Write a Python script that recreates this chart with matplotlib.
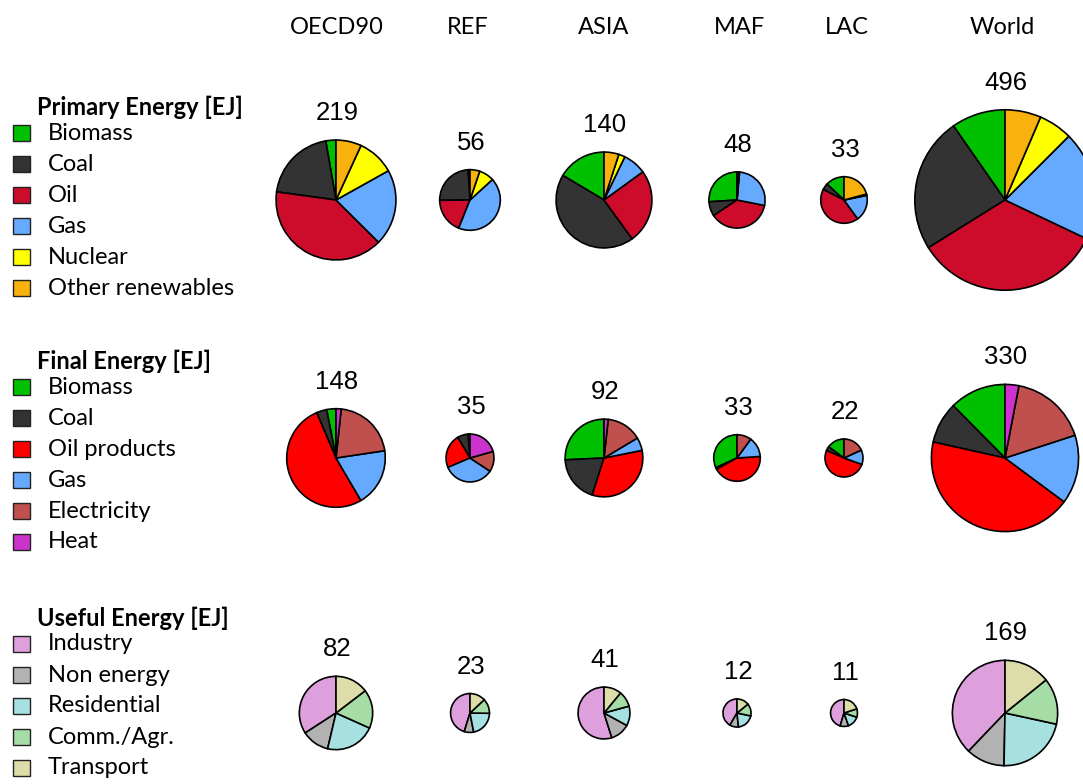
import matplotlib
matplotlib.use('Agg')
import matplotlib.pyplot as plt
from matplotlib.patches import Rectangle
import numpy as np

W, H = 1083, 784

regions = ['OECD90', 'REF', 'ASIA', 'MAF', 'LAC', 'World']

primary_labels = ['Biomass', 'Coal', 'Oil', 'Gas', 'Nuclear', 'Other renewables']
primary_colors = ['#00C000', '#333333', '#CC0C2A', '#66AAFF', '#FFFF00', '#F8B10D']
primary_values = [
    [6, 44, 87, 45, 22, 15],
    [0.6, 13.5, 10.5, 24, 4.5, 2.9],
    [23, 61, 35, 11, 3, 7],
    [12.5, 4, 18, 12.8, 0.2, 0.5],
    [4.3, 1.5, 14, 6, 0.3, 6.9],
    [48, 120, 169, 97, 30, 32],
]

final_labels = ['Biomass', 'Coal', 'Oil products', 'Gas', 'Electricity', 'Heat']
final_colors = ['#00C000', '#333333', '#FF0000', '#66AAFF', '#C0504D', '#CC33CC']
final_values = [
    [4.5, 5, 77, 28, 31, 2.5],
    [0.5, 2.5, 8, 12, 4.8, 7.2],
    [23.7, 17.8, 30.4, 5, 13.5, 1.6],
    [10.5, 0.4, 14.2, 4.6, 3.3, 0],
    [3.3, 0.8, 11.2, 2.7, 4.0, 0],
    [41, 30, 143, 50, 56, 10],
]

useful_labels = ['Industry', 'Non energy', 'Residential', 'Comm./Agr.', 'Transport']
useful_colors = ['#DDA0DD', '#B2B2B2', '#A6E0E0', '#A6DCA6', '#DDDDAA']
useful_values = [
    [28, 10, 18, 14, 12],
    [10.4, 1.8, 5, 2.8, 3],
    [22.5, 5, 5, 4, 4.5],
    [5, 1.2, 2.4, 1.7, 1.7],
    [5, 1.1, 1.6, 1.1, 2.2],
    [64, 20, 37, 24, 24],
]

col_x = [336, 470, 604, 737, 844, 1005]
header_x = [337, 468, 604, 740, 847, 1002]
row_y = [200, 458, 713]
k = 4.05  # radius scale (px per sqrt(EJ))

label_font = ['Lato', 'DejaVu Sans']
num_font = ['Liberation Sans', 'DejaVu Sans']

fig = plt.figure(figsize=(W / 100, H / 100), dpi=100)
ax = fig.add_axes([0, 0, 1, 1])

rows = [
    ('Primary Energy [EJ]', primary_labels, primary_colors, primary_values, 107),
    ('Final Energy [EJ]', final_labels, final_colors, final_values, 361),
    ('Useful Energy [EJ]', useful_labels, useful_colors, useful_values, 618),
]

for ri, (title, labels, colors, values, ty) in enumerate(rows):
    cy = row_y[ri]
    for ci, vals in enumerate(values):
        total = sum(vals)
        r = k * np.sqrt(total)
        v = [x for x in vals if x > 0]
        c = [colors[i] for i, x in enumerate(vals) if x > 0]
        ax.pie(v, colors=c, startangle=90, counterclock=True,
               center=(col_x[ci], H - cy), radius=r,
               wedgeprops=dict(edgecolor='black', linewidth=1.2))
        ax.text(col_x[ci] + 1, H - (cy - r - 27), f'{round(total):d}',
                ha='center', va='center', fontsize=18.5, family=num_font)
    # legend
    ax.text(37, H - ty, title, ha='left', va='center', fontsize=17,
            fontweight='bold', family=label_font)
    for i, (lab, col) in enumerate(zip(labels, colors)):
        yy = ty + 26 + i * 31
        ax.add_patch(Rectangle((13, H - yy - 8), 17, 16, facecolor=col,
                               edgecolor='#222222', linewidth=1.0))
        ax.text(48, H - yy, lab, ha='left', va='center', fontsize=17,
                family=label_font)

for x, name in zip(header_x, regions):
    ax.text(x, H - 27, name, ha='center', va='center', fontsize=17,
            family=label_font)

ax.set_xlim(0, W)
ax.set_ylim(0, H)
ax.set_aspect('equal')
ax.axis('off')

fig.savefig('out.png', dpi=100)
